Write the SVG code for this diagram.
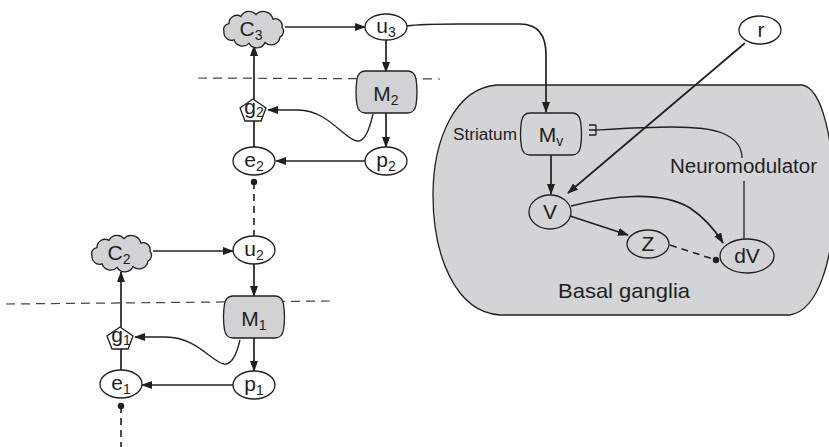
<svg xmlns="http://www.w3.org/2000/svg" xmlns:xlink="http://www.w3.org/1999/xlink" width="829" height="447" viewBox="0 0 829 447">
<style>
  .ln{fill:none;stroke:#231f20;stroke-width:1.7}
  .thin{fill:none;stroke:#231f20;stroke-width:1.3}
  .dash{fill:none;stroke:#444;stroke-width:1.2;stroke-dasharray:9,6}
  .dashv{fill:none;stroke:#231f20;stroke-width:1.6;stroke-dasharray:7,5}
  .node{fill:#fff;stroke:#231f20;stroke-width:1.3}
  .gray{fill:#d1d2d4;stroke:#231f20;stroke-width:1.3}
  .lbl{font-family:"Liberation Sans",Arial,sans-serif;font-size:21px;fill:#231f20;text-anchor:middle}
  .sub{font-size:14px}
  .txt{font-family:"Liberation Sans",Arial,sans-serif;fill:#231f20}
</style>
<defs>
  <marker id="arr" markerWidth="11" markerHeight="8" refX="10" refY="4" orient="auto" markerUnits="userSpaceOnUse">
    <path d="M0,0 L11,4 L0,8 z" fill="#231f20"/>
  </marker>
  <path id="cloud" d="M-24,-5.4 A8,8 0 0 1 -12,-12.6 A9,9 0 0 1 3,-14.4 A10,10 0 0 1 20,-9.9 A7,7 0 0 1 29,-1.8 A6.5,6.5 0 0 1 27,8.1 A9,9 0 0 1 12,13.5 A9,9 0 0 1 -4,14.4 A9,9 0 0 1 -19,10.8 A7.5,7.5 0 0 1 -29,2.7 A6,6 0 0 1 -24,-5.4 Z"/>
  <path id="mbox" d="M-21,-21 H21 Q28,-21 29.5,-13 Q31.5,0 29.5,13 Q28,21 21,21 H-21 Q-28,21 -29.5,13 Q-31.5,0 -29.5,-13 Q-28,-21 -21,-21 Z"/>
  <polygon id="pent" points="0,-11 13,-2 8,11 -8,11 -13,-2"/>
</defs>

<!-- Basal ganglia region -->
<g id="basal-ganglia">
  <path d="M497,85 L802,85 C822,88 834,140 834,200 C834,260 818,310 790,315 L500,315 C455,312 433,255 433,195 C433,140 455,88 497,85 Z" fill="#d3d4d6" stroke="#231f20" stroke-width="1.3"/>
  <text class="txt" x="558" y="298" font-size="21" textLength="132" lengthAdjust="spacingAndGlyphs">Basal ganglia</text>
  <text class="txt" x="453" y="140" font-size="16" textLength="64" lengthAdjust="spacingAndGlyphs">Striatum</text>
  <text class="txt" x="670" y="173" font-size="20" textLength="147" lengthAdjust="spacingAndGlyphs">Neuromodulator</text>
</g>

<!-- dashed level separators -->
<g id="separators">
  <line class="dash" x1="198" y1="78" x2="440" y2="79"/>
  <line class="dash" x1="6" y1="304" x2="330" y2="301"/>
</g>

<!-- connectors -->
<g id="connectors">
  <path class="ln" d="M285,27 L365,27" marker-end="url(#arr)"/>
  <path class="ln" d="M386,40 L386,72" marker-end="url(#arr)"/>
  <path class="ln" d="M386,112 L386,147" marker-end="url(#arr)"/>
  <path class="ln" d="M365,161 L276,161" marker-end="url(#arr)"/>
  <path class="ln" d="M254,147 L254,121"/>
  <path class="ln" d="M254,99 L254,46" marker-end="url(#arr)"/>
  <path class="thin" d="M373,114 C369,132 364,142 357,141 C345,140 328,110 298,110 L268,110" marker-end="url(#arr)"/>
  <circle cx="254" cy="182" r="3.2" fill="#231f20"/>
  <path class="dashv" d="M254,182 L254,236"/>

  <path class="ln" d="M153,251 L233,251" marker-end="url(#arr)"/>
  <path class="ln" d="M254,264 L254,296" marker-end="url(#arr)"/>
  <path class="ln" d="M254,338 L254,371" marker-end="url(#arr)"/>
  <path class="ln" d="M233,385 L142,385" marker-end="url(#arr)"/>
  <path class="ln" d="M121,370 L121,349"/>
  <path class="ln" d="M121,327 L121,272" marker-end="url(#arr)"/>
  <path class="thin" d="M240,340 C236,357 231,365 224,364 C212,362 196,337 166,337 L135,337" marker-end="url(#arr)"/>
  <circle cx="121" cy="406" r="3.2" fill="#231f20"/>
  <path class="dashv" d="M121,406 L121,447"/>

  <path class="ln" d="M407,26 C420,24 440,24 460,24 L520,24 C538,24 546,35 546,55 L546,112" marker-end="url(#arr)"/>
  <path class="ln" d="M745,43 L568,193" marker-end="url(#arr)"/>
  <path class="ln" d="M551,155 L551,194" marker-end="url(#arr)"/>
  <path class="ln" d="M570,216 L628,235" marker-end="url(#arr)"/>
  <path class="ln" d="M571,206 C610,196 660,190 690,208 C705,218 715,230 723,243" marker-end="url(#arr)"/>
  <path class="dashv" d="M670,245 L716,260"/>
  <circle cx="716" cy="260" r="3.2" fill="#231f20"/>
  <path class="thin" d="M596,130 C650,127 700,124 722,133 C737,139 742,148 742,158"/>
  <path class="thin" d="M596,125 L596,135 M589,125 L596,125 M589,130 L596,130 M589,135 L596,135"/>
  <path class="thin" d="M744,181 L744,239"/>
</g>

<!-- nodes -->
<g id="C3"><use xlink:href="#cloud" class="gray" transform="translate(253,29)"/><text class="lbl" x="251" y="36">C<tspan class="sub" dy="4">3</tspan></text></g>
<g id="u3"><ellipse class="node" cx="386" cy="27" rx="21" ry="13"/><text class="lbl" x="386" y="33">u<tspan class="sub" dy="4">3</tspan></text></g>
<g id="M2"><use xlink:href="#mbox" class="gray" transform="translate(386.5,92)"/><text class="lbl" x="386" y="101">M<tspan class="sub" dy="4">2</tspan></text></g>
<g id="g2"><use xlink:href="#pent" class="node" transform="translate(253,110)"/><text class="lbl" x="254" y="114" font-size="19">g<tspan class="sub" dy="3">2</tspan></text></g>
<g id="e2"><ellipse class="node" cx="254" cy="161" rx="21" ry="14"/><text class="lbl" x="254" y="167">e<tspan class="sub" dy="4">2</tspan></text></g>
<g id="p2"><ellipse class="node" cx="386" cy="161" rx="21" ry="14"/><text class="lbl" x="386" y="167">p<tspan class="sub" dy="4">2</tspan></text></g>

<g id="C2"><use xlink:href="#cloud" class="gray" transform="translate(121,253)"/><text class="lbl" x="119" y="260">C<tspan class="sub" dy="4">2</tspan></text></g>
<g id="u2"><ellipse class="node" cx="254" cy="250" rx="21" ry="14"/><text class="lbl" x="254" y="256">u<tspan class="sub" dy="4">2</tspan></text></g>
<g id="M1"><use xlink:href="#mbox" class="gray" transform="translate(254,317)"/><text class="lbl" x="254" y="326">M<tspan class="sub" dy="4">1</tspan></text></g>
<g id="g1"><use xlink:href="#pent" class="node" transform="translate(120,338)"/><text class="lbl" x="121" y="342" font-size="19">g<tspan class="sub" dy="3">1</tspan></text></g>
<g id="e1"><ellipse class="node" cx="121" cy="384" rx="21" ry="14"/><text class="lbl" x="121" y="390">e<tspan class="sub" dy="4">1</tspan></text></g>
<g id="p1"><ellipse class="node" cx="254" cy="385" rx="21" ry="14"/><text class="lbl" x="254" y="391">p<tspan class="sub" dy="4">1</tspan></text></g>

<g id="r"><ellipse class="node" cx="760" cy="30" rx="21" ry="14"/><text class="lbl" x="761" y="37">r</text></g>
<g id="Mv"><use xlink:href="#mbox" fill="#d3d4d6" stroke="#231f20" stroke-width="1.3" transform="translate(551,134)"/><text class="lbl" x="551" y="142">M<tspan class="sub" dy="4">v</tspan></text></g>
<g id="V"><ellipse cx="550" cy="212" rx="21" ry="17" fill="#d3d4d6" stroke="#231f20" stroke-width="1.3"/><text class="lbl" x="550" y="219">V</text></g>
<g id="Z"><ellipse cx="648" cy="244" rx="21" ry="14" fill="#d3d4d6" stroke="#231f20" stroke-width="1.3"/><text class="lbl" x="648" y="251">Z</text></g>
<g id="dV"><ellipse cx="747" cy="256" rx="27" ry="17" fill="#d3d4d6" stroke="#231f20" stroke-width="1.3"/><text class="lbl" x="747" y="263">dV</text></g>
</svg>
